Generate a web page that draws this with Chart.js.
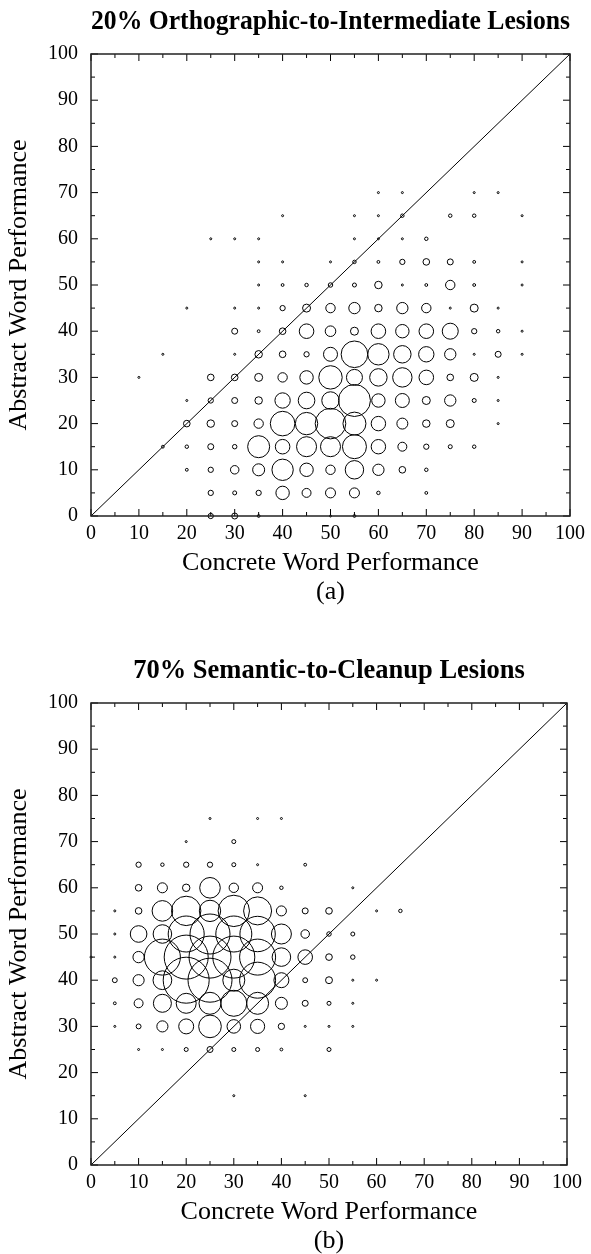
<!DOCTYPE html>
<html>
<head>
<meta charset="utf-8">
<script src="https://cdn.jsdelivr.net/npm/chart.js@4"></script>
<style>
  html, body { margin: 0; padding: 0; background: #fff; }
  body { width: 591px; height: 1254px; position: relative; overflow: hidden; }
  .panel { position: absolute; left: 0; width: 591px; height: 605px; }
  #pa { top: 0; }
  #pb { top: 649px; }
</style>
</head>
<body>
<div class="panel" id="pa"><canvas id="ca"></canvas></div>
<div class="panel" id="pb"><canvas id="cb"></canvas></div>
<script>
// ---- axes ----
const TICKS = [0, 10, 20, 30, 40, 50, 60, 70, 80, 90, 100];
const MINOR_TICKS = [5, 15, 25, 35, 45, 55, 65, 75, 85, 95];
const DIAG = [0, 100];

// ---- (a) 20% orthographic-to-intermediate lesions ----
// one row per abstract score, x = concrete score, n = number of networks
const A_ROWS = [70, 65, 60, 55, 50, 45, 40, 35, 30, 25, 20, 15, 10, 5, 0];
const A_X = [
  [60, 65, 80, 85],
  [40, 55, 60, 65, 75, 80, 90],
  [25, 30, 35, 55, 60, 65, 70],
  [35, 40, 50, 55, 60, 65, 70, 75, 80, 90],
  [35, 40, 45, 50, 55, 60, 65, 70, 75, 80, 90],
  [20, 30, 35, 40, 45, 50, 55, 60, 65, 70, 75, 80, 85],
  [30, 35, 40, 45, 50, 55, 60, 65, 70, 75, 80, 85, 90],
  [15, 30, 35, 40, 45, 50, 55, 60, 65, 70, 75, 80, 85, 90],
  [10, 25, 30, 35, 40, 45, 50, 55, 60, 65, 70, 75, 80, 85],
  [20, 25, 30, 35, 40, 45, 50, 55, 60, 65, 70, 75, 80, 85],
  [20, 25, 30, 35, 40, 45, 50, 55, 60, 65, 70, 75, 85],
  [15, 20, 25, 30, 35, 40, 45, 50, 55, 60, 65, 70, 75, 80],
  [20, 25, 30, 35, 40, 45, 50, 55, 60, 65, 70],
  [25, 30, 35, 40, 45, 50, 55, 60, 70],
  [25, 30, 35, 50, 55]
];
const A_N = [
  [1, 1, 1, 1],
  [1, 1, 1, 3, 3, 3, 1],
  [1, 1, 1, 1, 1, 1, 3],
  [1, 1, 1, 3, 2, 7, 11, 9, 2, 1],
  [1, 2, 3, 5, 4, 14, 1, 2, 22, 2, 1],
  [1, 1, 1, 7, 16, 22, 32, 14, 32, 22, 1, 16, 1],
  [9, 2, 11, 53, 28, 16, 53, 45, 53, 64, 7, 3, 1],
  [1, 1, 14, 11, 7, 49, 177, 114, 76, 59, 32, 1, 9, 1],
  [1, 11, 11, 16, 22, 45, 137, 64, 76, 94, 53, 11, 16, 1],
  [1, 7, 9, 14, 59, 69, 76, 256, 45, 49, 16, 32, 4, 1],
  [11, 14, 9, 22, 151, 125, 234, 132, 52, 30, 14, 16, 1],
  [2, 3, 9, 5, 121, 53, 100, 100, 144, 52, 20, 7, 4, 3],
  [2, 7, 18, 36, 114, 45, 22, 85, 32, 11, 3],
  [7, 4, 7, 45, 20, 25, 25, 3, 2],
  [7, 9, 2, 1, 2]
];

// ---- (b) 70% semantic-to-cleanup lesions ----
const B_ROWS = [75, 70, 65, 60, 55, 50, 45, 40, 35, 30, 25, 15];
const B_X = [
  [25, 35, 40],
  [20, 30],
  [10, 15, 20, 25, 30, 35, 45],
  [10, 15, 20, 25, 30, 35, 40, 55],
  [5, 10, 15, 20, 25, 30, 35, 40, 45, 50, 60, 65],
  [5, 10, 15, 20, 25, 30, 35, 40, 45, 50, 55],
  [0, 5, 10, 15, 20, 25, 30, 35, 40, 45, 50, 55],
  [5, 10, 15, 20, 25, 30, 35, 40, 45, 50, 55, 60],
  [5, 10, 15, 20, 25, 30, 35, 40, 45, 50, 55],
  [5, 10, 15, 20, 25, 30, 35, 40, 45, 50, 55],
  [10, 15, 20, 25, 30, 35, 40, 50],
  [30, 45]
];
const B_N = [
  [1, 1, 1],
  [1, 4],
  [7, 3, 7, 7, 4, 1, 2],
  [11, 25, 14, 106, 22, 25, 3, 1],
  [1, 11, 106, 216, 114, 246, 196, 25, 9, 11, 1, 3],
  [1, 69, 86, 324, 400, 324, 313, 100, 18, 5, 4],
  [1, 1, 32, 324, 484, 441, 441, 324, 86, 53, 11, 5],
  [6, 31, 88, 529, 484, 121, 324, 56, 6, 12, 1, 1],
  [2, 20, 81, 100, 121, 169, 121, 36, 9, 4, 1],
  [1, 6, 31, 56, 128, 46, 50, 10, 1, 1, 1],
  [1, 1, 4, 9, 4, 4, 2, 4],
  [1, 1]
];

const SERIF = "'Liberation Serif', 'Times New Roman', serif";

function toPoints(rows, xs, ns) {
  const pts = [];
  rows.forEach(function (y, i) {
    xs[i].forEach(function (x, j) {
      pts.push({ x: x, y: y, r: Math.sqrt(ns[i][j]) });
    });
  });
  return pts;
}

// inner ticks on all four sides + frame, gnuplot style
const frameTicks = {
  id: 'frameTicks',
  afterDatasetsDraw(chart) {
    const ctx = chart.ctx, a = chart.chartArea;
    const sx = chart.scales.x, sy = chart.scales.y;
    ctx.save();
    ctx.strokeStyle = '#000';
    ctx.lineWidth = 1;
    const marks = TICKS.map(function (v) { return [v, 7]; })
      .concat(MINOR_TICKS.map(function (v) { return [v, 4]; }));
    ctx.beginPath();
    marks.forEach(function (m) {
      const px = sx.getPixelForValue(m[0]), py = sy.getPixelForValue(m[0]);
      ctx.moveTo(px, a.bottom); ctx.lineTo(px, a.bottom - m[1]);
      ctx.moveTo(px, a.top);    ctx.lineTo(px, a.top + m[1]);
      ctx.moveTo(a.left, py);   ctx.lineTo(a.left + m[1], py);
      ctx.moveTo(a.right, py);  ctx.lineTo(a.right - m[1], py);
    });
    ctx.stroke();
    ctx.lineWidth = 1.5;
    ctx.strokeStyle = '#222';
    ctx.strokeRect(a.left, a.top, a.right - a.left, a.bottom - a.top);
    ctx.restore();
  }
};

function makeChart(id, title, caption, rows, xs, ns) {
  return new Chart(document.getElementById(id), {
    type: 'bubble',
    data: {
      datasets: [
        {
          data: toPoints(rows, xs, ns),
          backgroundColor: 'transparent',
          borderColor: '#000',
          borderWidth: 1,
          clip: false
        },
        {
          type: 'line',
          data: DIAG.map(function (v) { return { x: v, y: v }; }),
          borderColor: '#000',
          borderWidth: 1,
          pointRadius: 0,
          fill: false,
          clip: false
        }
      ]
    },
    options: {
      responsive: true,
      maintainAspectRatio: false,
      animation: false,
      events: [],
      layout: { padding: { left: 0, right: 19, top: 0, bottom: 0 } },
      plugins: {
        legend: { display: false },
        tooltip: { enabled: false },
        title: {
          display: true,
          text: title,
          fullSize: false,
          color: '#000',
          font: { family: SERIF, size: 26.5, weight: 'bold', lineHeight: 1.2 },
          padding: { top: 6.1, bottom: 16.1 }
        },
        subtitle: {
          display: true,
          text: caption,
          position: 'bottom',
          fullSize: false,
          color: '#000',
          font: { family: SERIF, size: 26, weight: 'normal', lineHeight: 1 },
          padding: 0
        }
      },
      scales: {
        x: {
          type: 'linear',
          min: 0, max: 100,
          afterBuildTicks: function (s) { s.ticks = TICKS.map(function (v) { return { value: v }; }); },
          afterFit: function (s) { s.height = 63; },
          grid: { display: false, drawTicks: false },
          border: { display: false },
          ticks: { padding: 6, color: '#000', maxRotation: 0, autoSkip: false,
                   font: { family: SERIF, size: 20 } },
          title: { display: true, text: 'Concrete Word Performance', color: '#000',
                   font: { family: SERIF, size: 26, lineHeight: 1.2 }, padding: 0 }
        },
        y: {
          type: 'linear',
          min: 0, max: 100,
          afterBuildTicks: function (s) { s.ticks = TICKS.map(function (v) { return { value: v }; }); },
          afterFit: function (s) { s.width = 91; },
          grid: { display: false, drawTicks: false },
          border: { display: false },
          ticks: { padding: 13, color: '#000', autoSkip: false,
                   font: { family: SERIF, size: 20 } },
          title: { display: true, text: 'Abstract Word Performance', color: '#000',
                   font: { family: SERIF, size: 26, lineHeight: 1.2 }, padding: { top: 4, bottom: 0 } }
        }
      }
    },
    plugins: [frameTicks]
  });
}

makeChart('ca', '20% Orthographic-to-Intermediate Lesions', '(a)', A_ROWS, A_X, A_N);
makeChart('cb', '70% Semantic-to-Cleanup Lesions', '(b)', B_ROWS, B_X, B_N);
</script>
</body>
</html>
